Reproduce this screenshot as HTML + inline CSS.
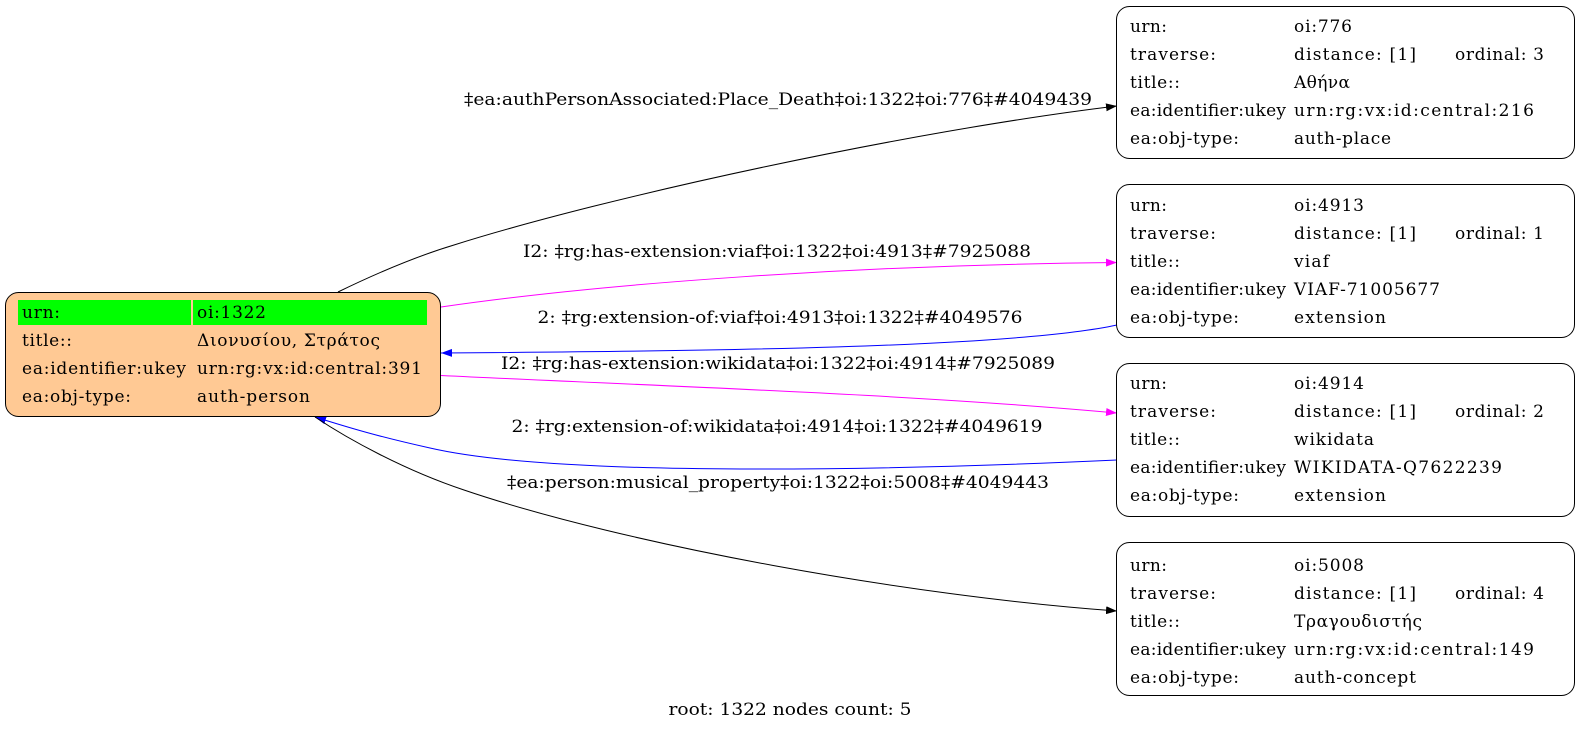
<!DOCTYPE html>
<html><head><meta charset="utf-8"><style>html,body{margin:0;padding:0;background:#fff}svg{display:block}text{font-family:"DejaVu Serif","Liberation Serif",serif;font-size:17px;fill:#000}</style></head>
<body>
<svg width="1580" height="732" viewBox="0 0 1580 732" xmlns="http://www.w3.org/2000/svg">
<defs>
<marker id="ak" markerWidth="11" markerHeight="8" refX="11" refY="4" orient="auto" markerUnits="userSpaceOnUse"><path d="M0,0 L11,4 L0,8 z" fill="#000"/></marker>
<marker id="am" markerWidth="11" markerHeight="8" refX="11" refY="4" orient="auto" markerUnits="userSpaceOnUse"><path d="M0,0 L11,4 L0,8 z" fill="#f0f"/></marker>
<marker id="ab" markerWidth="11" markerHeight="8" refX="11" refY="4" orient="auto" markerUnits="userSpaceOnUse"><path d="M0,0 L11,4 L0,8 z" fill="#00f"/></marker>
</defs>
<path d="M338,292 C373,275 414,257 454,245 C606,197 909,131 1117,106" fill="none" stroke="#000" marker-end="url(#ak)"/>
<path d="M441,307 C606,283 858,265 1117,262.5" fill="none" stroke="#f0f" marker-end="url(#am)"/>
<path d="M1117,325 C1010,348 707,351 441,353" fill="none" stroke="#00f" marker-end="url(#ab)"/>
<path d="M441,375.5 C656,386 909,394 1117,413" fill="none" stroke="#f0f" marker-end="url(#am)"/>
<path d="M1117,460 C900,470 560,478 430,448 C380,437 350,428 315,417" fill="none" stroke="#00f" marker-end="url(#ab)"/>
<path d="M315,417 C348,439 404,470 464,490 C626,545 909,596 1117,611" fill="none" stroke="#000" marker-end="url(#ak)"/>
<g text-anchor="middle">
<text x="778" y="105" textLength="628" lengthAdjust="spacingAndGlyphs">‡ea:authPersonAssociated:Place_Death‡oi:1322‡oi:776‡#4049439</text>
<text x="777" y="257" textLength="508" lengthAdjust="spacingAndGlyphs">I2: ‡rg:has-extension:viaf‡oi:1322‡oi:4913‡#7925088</text>
<text x="780" y="323" textLength="485" lengthAdjust="spacingAndGlyphs">2: ‡rg:extension-of:viaf‡oi:4913‡oi:1322‡#4049576</text>
<text x="778" y="369" textLength="554" lengthAdjust="spacingAndGlyphs">I2: ‡rg:has-extension:wikidata‡oi:1322‡oi:4914‡#7925089</text>
<text x="777" y="432" textLength="531" lengthAdjust="spacingAndGlyphs">2: ‡rg:extension-of:wikidata‡oi:4914‡oi:1322‡#4049619</text>
<text x="778" y="488" textLength="542" lengthAdjust="spacingAndGlyphs">‡ea:person:musical_property‡oi:1322‡oi:5008‡#4049443</text>
<text x="790" y="715" textLength="243" lengthAdjust="spacingAndGlyphs">root: 1322 nodes count: 5</text>
</g>
<rect x="5.5" y="292.5" width="435" height="124" rx="13" fill="#ffc994" stroke="#000"/>
<rect x="18" y="300" width="173" height="25" fill="#00ff00"/>
<rect x="193" y="300" width="234" height="25" fill="#00ff00"/>
<g>
<text x="22" y="318" textLength="38">urn:</text><text x="197" y="318" textLength="69">oi:1322</text>
<text x="22" y="346" textLength="50">title::</text><text x="197" y="346" textLength="183">Διονυσίου, Στράτος</text>
<text x="22" y="374" textLength="164">ea:identifier:ukey</text><text x="197" y="374" textLength="225">urn:rg:vx:id:central:391</text>
<text x="22" y="402" textLength="109">ea:obj-type:</text><text x="197" y="402" textLength="113">auth-person</text>
</g>
<g>
<rect x="1116.5" y="6.5" width="458" height="152" rx="13" fill="#fff" stroke="#000"/>
<text x="1130" y="32" textLength="37">urn:</text><text x="1294" y="32" textLength="58">oi:776</text>
<text x="1130" y="60" textLength="86">traverse:</text><text x="1294" y="60" textLength="122">distance: [1]</text><text x="1455" y="60" textLength="89">ordinal: 3</text>
<text x="1130" y="88" textLength="50">title::</text><text x="1294" y="88" textLength="56">Αθήνα</text>
<text x="1130" y="116" textLength="156">ea:identifier:ukey</text><text x="1294" y="116" textLength="240">urn:rg:vx:id:central:216</text>
<text x="1130" y="144" textLength="109">ea:obj-type:</text><text x="1294" y="144" textLength="97">auth-place</text>
</g>
<g>
<rect x="1116.5" y="184.5" width="458" height="153" rx="13" fill="#fff" stroke="#000"/>
<text x="1130" y="211" textLength="37">urn:</text><text x="1294" y="211" textLength="70">oi:4913</text>
<text x="1130" y="239" textLength="86">traverse:</text><text x="1294" y="239" textLength="122">distance: [1]</text><text x="1455" y="239" textLength="89">ordinal: 1</text>
<text x="1130" y="267" textLength="50">title::</text><text x="1294" y="267" textLength="35">viaf</text>
<text x="1130" y="295" textLength="156">ea:identifier:ukey</text><text x="1294" y="295" textLength="146">VIAF-71005677</text>
<text x="1130" y="323" textLength="109">ea:obj-type:</text><text x="1294" y="323" textLength="92">extension</text>
</g>
<g>
<rect x="1116.5" y="363.5" width="458" height="153" rx="13" fill="#fff" stroke="#000"/>
<text x="1130" y="389" textLength="37">urn:</text><text x="1294" y="389" textLength="70">oi:4914</text>
<text x="1130" y="417" textLength="86">traverse:</text><text x="1294" y="417" textLength="122">distance: [1]</text><text x="1455" y="417" textLength="89">ordinal: 2</text>
<text x="1130" y="445" textLength="50">title::</text><text x="1294" y="445" textLength="80">wikidata</text>
<text x="1130" y="473" textLength="156">ea:identifier:ukey</text><text x="1294" y="473" textLength="208">WIKIDATA-Q7622239</text>
<text x="1130" y="501" textLength="109">ea:obj-type:</text><text x="1294" y="501" textLength="92">extension</text>
</g>
<g>
<rect x="1116.5" y="542.5" width="458" height="153" rx="13" fill="#fff" stroke="#000"/>
<text x="1130" y="571" textLength="37">urn:</text><text x="1294" y="571" textLength="70">oi:5008</text>
<text x="1130" y="599" textLength="86">traverse:</text><text x="1294" y="599" textLength="122">distance: [1]</text><text x="1455" y="599" textLength="89">ordinal: 4</text>
<text x="1130" y="627" textLength="50">title::</text><text x="1294" y="627" textLength="128">Τραγουδιστής</text>
<text x="1130" y="655" textLength="156">ea:identifier:ukey</text><text x="1294" y="655" textLength="240">urn:rg:vx:id:central:149</text>
<text x="1130" y="683" textLength="109">ea:obj-type:</text><text x="1294" y="683" textLength="122">auth-concept</text>
</g>
</svg>
</body></html>
